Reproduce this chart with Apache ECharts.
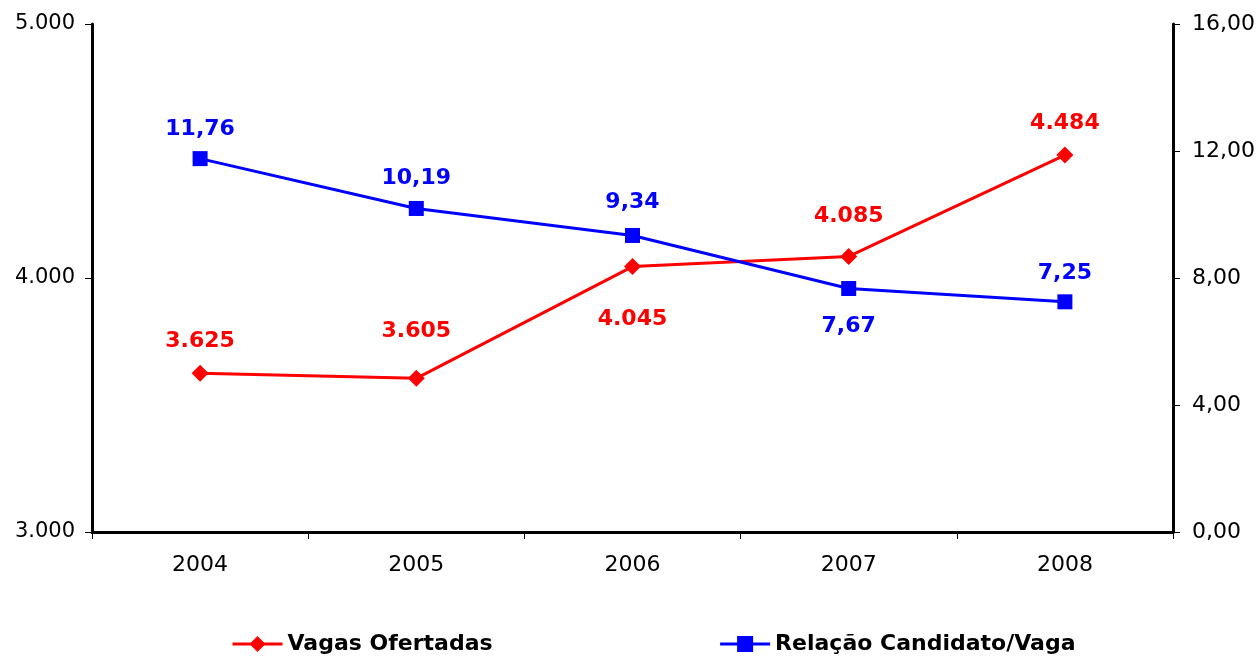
<!DOCTYPE html>
<html>
<head>
<meta charset="utf-8">
<script src="https://cdn.jsdelivr.net/npm/echarts@6/dist/echarts.min.js"></script>
<style>
  html, body { margin: 0; padding: 0; background: #fff; }
  #chart { width: 1258px; height: 660px; }
</style>
</head>
<body>
<div id="chart"></div>
<script>
const years = ["2004", "2005", "2006", "2007", "2008"];
const vagas = [3625, 3605, 4045, 4085, 4484];
const relacao = [11.76, 10.19, 9.34, 7.67, 7.25];

const FONT = "DejaVu Sans";
const fmtThousands = (v) => String(v).replace(/\B(?=(\d{3})+(?!\d))/g, ".");
const fmtDecimal = (v) => v.toFixed(2).replace(".", ",");

// label placement per point, as in the original (Excel put each label by hand)
const vagasLabel = [["top", 12], ["top", 28], ["bottom", 33], ["top", 21], ["top", 12]];
const relacaoLabel = [["top", 11], ["top", 12], ["top", 15], ["bottom", 19], ["top", 10]];

const withLabels = (vals, place) => vals.map((v, i) => ({
  value: v,
  label: { position: place[i][0], distance: place[i][1] },
}));

const chart = echarts.init(document.getElementById("chart"));

chart.setOption({
  animation: false,
  textStyle: { fontFamily: FONT },
  grid: { left: 92, right: 85, top: 24, bottom: 128 },
  legend: {
    bottom: 0,
    left: 226,
    itemGap: 226,
    itemWidth: 50,
    itemHeight: 20,
    lineStyle: { width: 3 },
    textStyle: { fontFamily: FONT, fontSize: 22, fontWeight: "bold", color: "#000" },
    data: ["Vagas Ofertadas", "Relação Candidato/Vaga"],
  },
  xAxis: {
    type: "category",
    data: years,
    boundaryGap: true,
    axisLine: { lineStyle: { color: "#000", width: 3 } },
    axisTick: { show: true, length: 7, lineStyle: { color: "#000", width: 1 } },
    axisLabel: { color: "#000", fontSize: 22, margin: 22, fontFamily: FONT },
    splitLine: { show: false },
  },
  yAxis: [
    {
      type: "value",
      min: 3000,
      max: 5000,
      interval: 1000,
      position: "left",
      axisLine: { show: true, lineStyle: { color: "#000", width: 3 } },
      axisTick: { show: true, length: 7, lineStyle: { color: "#000", width: 1 } },
      axisLabel: { color: "#000", fontSize: 21, margin: 17, fontFamily: FONT, formatter: fmtThousands },
      splitLine: { show: false },
    },
    {
      type: "value",
      min: 0,
      max: 16,
      interval: 4,
      position: "right",
      axisLine: { show: true, lineStyle: { color: "#000", width: 3 } },
      axisTick: { show: true, length: 7, lineStyle: { color: "#000", width: 1 } },
      axisLabel: { color: "#000", fontSize: 22, margin: 19, fontFamily: FONT, formatter: fmtDecimal },
      splitLine: { show: false },
    },
  ],
  series: [
    {
      name: "Vagas Ofertadas",
      type: "line",
      yAxisIndex: 0,
      data: withLabels(vagas, vagasLabel),
      symbol: "diamond",
      symbolSize: 17,
      color: "#ff0000",
      lineStyle: { color: "#ff0000", width: 3 },
      label: {
        show: true,
        color: "#ff0000",
        fontSize: 22,
        fontWeight: "bold",
        fontFamily: FONT,
        formatter: (p) => fmtThousands(p.value),
      },
    },
    {
      name: "Relação Candidato/Vaga",
      type: "line",
      yAxisIndex: 1,
      data: withLabels(relacao, relacaoLabel),
      symbol: "rect",
      symbolSize: 15,
      color: "#0000ff",
      lineStyle: { color: "#0000ff", width: 3 },
      label: {
        show: true,
        color: "#0000ff",
        fontSize: 22,
        fontWeight: "bold",
        fontFamily: FONT,
        formatter: (p) => fmtDecimal(p.value),
      },
    },
  ],
});
</script>
</body>
</html>
